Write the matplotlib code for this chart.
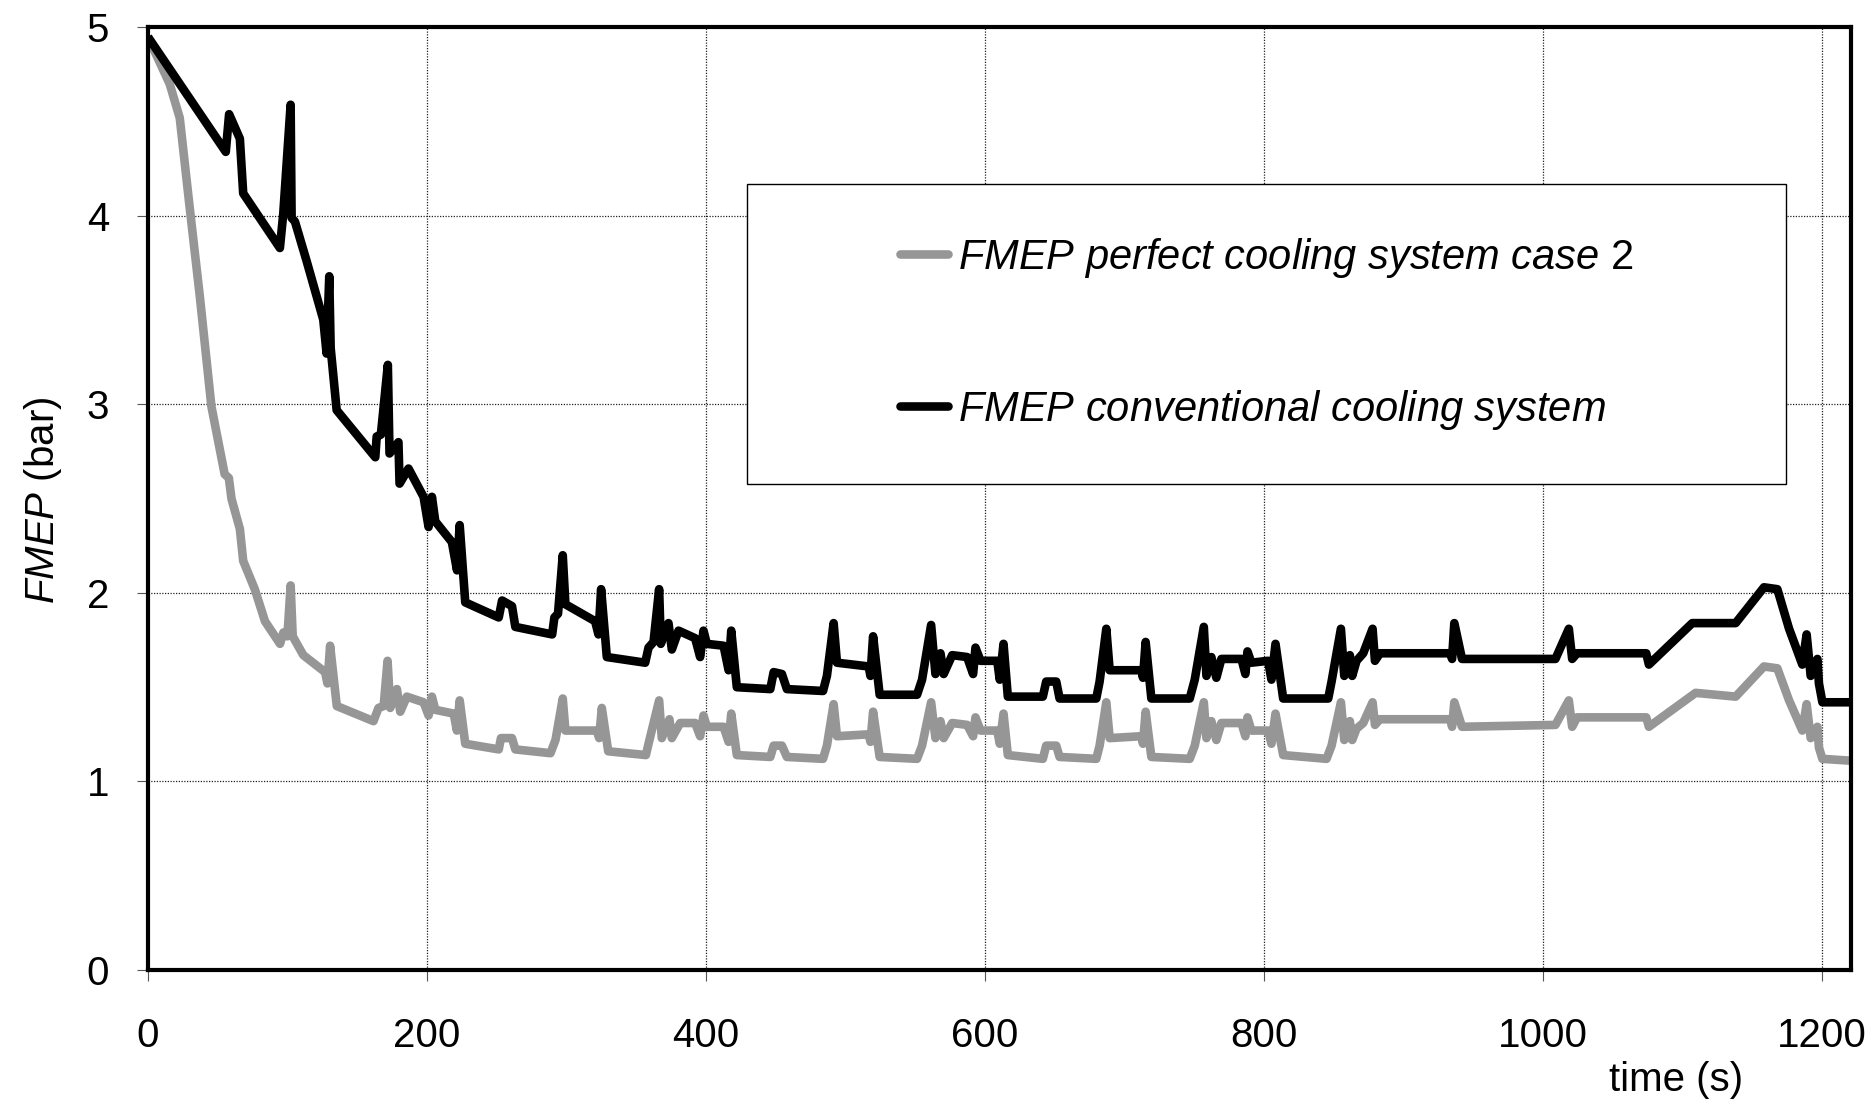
import matplotlib
matplotlib.use("Agg")
import matplotlib.pyplot as plt
from matplotlib.lines import Line2D
from matplotlib.patches import Rectangle

plt.rcParams['font.family'] = ['Liberation Sans', 'DejaVu Sans']
plt.rcParams['mathtext.fontset'] = 'custom'
plt.rcParams['mathtext.it'] = 'Liberation Sans:italic'
plt.rcParams['mathtext.rm'] = 'Liberation Sans'

# FMEP, conventional cooling system (black)
time_conv = [
    0, 55.8, 58.2, 65.9, 68.3, 94.6, 97, 102.3, 103, 105.4,
    113.8, 125.7, 128.1, 130, 131, 135.3, 163, 164, 167, 172,
    173.2, 179.6, 180.4, 186.8, 197.6, 201.2, 203.6, 206, 217.9, 221.6,
    223.5, 227.5, 251.5, 253.9, 261, 263.4, 289.8, 291.4, 294, 297.4,
    299.3, 320.6, 323, 324.9, 329, 356.5, 358.9, 362.5, 366.5, 367.7,
    373.2, 375.6, 380.4, 392.3, 395.9, 398.3, 400.7, 412.7, 416.3, 418.2,
    422.2, 446.2, 448.6, 454.5, 458.1, 484, 486.8, 491.6, 494, 516.7,
    518, 519.9, 524.6, 551.4, 555, 561.5, 564.6, 568.2, 570.5, 576.6,
    587.3, 591.6, 593.3, 596.9, 608.9, 610.7, 613.4, 616.5, 641.6, 644,
    651.2, 653.6, 679.9, 682.3, 687.1, 689.5, 712.2, 713.4, 715.3, 719.4,
    746.9, 750.5, 757, 758.9, 762.4, 766, 769.6, 784, 786.8, 788.3,
    791.1, 803.1, 805.5, 808.4, 813.9, 846.2, 848.6, 855.3, 857.7, 861.7,
    863.4, 866.5, 871.3, 878, 879.7, 883.3, 933.7, 935, 936.6, 942.1,
    1009.1, 1018.7, 1021.1, 1024.6, 1074.2, 1076.1, 1107.2, 1138.3, 1158.6, 1168.2,
    1176.6, 1186.1, 1189.2, 1192.1, 1194.5, 1196.9, 1198, 1200.5, 1221,
]
fmep_conv = [
    4.95, 4.34, 4.54, 4.41, 4.12, 3.83, 4.01, 4.59, 3.99, 3.97,
    3.76, 3.45, 3.27, 3.68, 3.30, 2.97, 2.72, 2.83, 2.84, 3.21,
    2.74, 2.80, 2.58, 2.66, 2.51, 2.35, 2.51, 2.38, 2.27, 2.12,
    2.36, 1.95, 1.87, 1.96, 1.93, 1.82, 1.78, 1.87, 1.89, 2.20,
    1.94, 1.85, 1.78, 2.02, 1.66, 1.63, 1.71, 1.74, 2.02, 1.73,
    1.84, 1.70, 1.80, 1.76, 1.66, 1.80, 1.73, 1.72, 1.59, 1.80,
    1.50, 1.49, 1.58, 1.57, 1.49, 1.48, 1.56, 1.84, 1.63, 1.61,
    1.56, 1.77, 1.46, 1.46, 1.54, 1.83, 1.57, 1.68, 1.57, 1.67,
    1.66, 1.57, 1.71, 1.64, 1.64, 1.54, 1.73, 1.45, 1.45, 1.53,
    1.53, 1.44, 1.44, 1.53, 1.81, 1.59, 1.59, 1.55, 1.74, 1.44,
    1.44, 1.54, 1.82, 1.56, 1.66, 1.55, 1.65, 1.65, 1.57, 1.69,
    1.63, 1.64, 1.54, 1.73, 1.44, 1.44, 1.53, 1.81, 1.56, 1.67,
    1.56, 1.64, 1.68, 1.81, 1.64, 1.68, 1.68, 1.65, 1.84, 1.65,
    1.65, 1.81, 1.65, 1.68, 1.68, 1.62, 1.84, 1.84, 2.03, 2.02,
    1.81, 1.62, 1.78, 1.56, 1.60, 1.65, 1.52, 1.42, 1.42,
]

# FMEP, perfect cooling system case 2 (grey)
time_perf = [
    0, 15.6, 22.8, 30, 37.1, 45.5, 55, 58, 59.9, 65.9,
    68.3, 76.6, 83.9, 94.7, 97.1, 100, 102.3, 103.8, 111.4, 127,
    128.7, 130.6, 135.4, 161.7, 165.3, 169, 171.8, 173.7, 178.5, 180.9,
    185.6, 197.6, 201.2, 203.6, 206, 219.2, 221.5, 223.5, 227.5, 251.5,
    253.1, 261, 263.4, 288.6, 292.2, 297.4, 299.3, 321.8, 323.5, 325.4,
    330, 357, 358.9, 366.5, 368.4, 373.9, 375.6, 381.6, 392.3, 395.9,
    398.3, 400.7, 412.7, 416.3, 418.2, 422.2, 446.2, 448.6, 454.5, 458.1,
    484, 486.8, 491.6, 494, 516.7, 518, 519.9, 524.6, 551.4, 555,
    561.5, 564.6, 568.2, 570.5, 576.6, 587.3, 591.6, 593.3, 596.9, 608.9,
    610.7, 613.4, 616.5, 641.6, 644, 651.2, 653.6, 679.9, 682.3, 687.1,
    689.5, 712.2, 713.4, 715.3, 719.4, 746.9, 750.5, 757, 758.9, 762.4,
    766, 769.6, 784, 786.8, 788.3, 791.1, 803.1, 805.5, 808.4, 813.9,
    845, 848.6, 855.3, 857.7, 861.7, 863.4, 866.5, 871.3, 878, 879.7,
    883.3, 933.7, 935, 936.6, 942.1, 1009.1, 1018.7, 1021.1, 1024.6, 1074.2,
    1076.1, 1109.6, 1138.3, 1158.6, 1168.2, 1176.6, 1186.1, 1189.2, 1192.1, 1196.9,
    1198, 1200.5, 1221,
]
fmep_perf = [
    4.95, 4.70, 4.52, 4.04, 3.58, 2.99, 2.63, 2.61, 2.50, 2.34,
    2.17, 2.02, 1.85, 1.73, 1.79, 1.77, 2.04, 1.77, 1.67, 1.58,
    1.52, 1.72, 1.40, 1.32, 1.39, 1.40, 1.64, 1.39, 1.49, 1.37,
    1.45, 1.42, 1.35, 1.45, 1.38, 1.36, 1.27, 1.43, 1.20, 1.17,
    1.23, 1.23, 1.17, 1.15, 1.22, 1.44, 1.27, 1.27, 1.23, 1.39,
    1.16, 1.14, 1.20, 1.43, 1.23, 1.33, 1.23, 1.31, 1.31, 1.24,
    1.35, 1.29, 1.29, 1.21, 1.36, 1.14, 1.13, 1.19, 1.19, 1.13,
    1.12, 1.19, 1.41, 1.24, 1.25, 1.21, 1.37, 1.13, 1.12, 1.19,
    1.42, 1.23, 1.32, 1.23, 1.31, 1.30, 1.24, 1.34, 1.27, 1.27,
    1.20, 1.36, 1.14, 1.12, 1.19, 1.19, 1.13, 1.12, 1.19, 1.42,
    1.23, 1.24, 1.20, 1.37, 1.13, 1.12, 1.19, 1.42, 1.23, 1.32,
    1.22, 1.31, 1.31, 1.24, 1.34, 1.27, 1.27, 1.20, 1.36, 1.14,
    1.12, 1.19, 1.42, 1.22, 1.32, 1.22, 1.28, 1.31, 1.42, 1.30,
    1.33, 1.33, 1.29, 1.42, 1.29, 1.30, 1.43, 1.29, 1.34, 1.34,
    1.29, 1.47, 1.45, 1.61, 1.60, 1.43, 1.27, 1.41, 1.23, 1.29,
    1.18, 1.12, 1.11,
]

x_ticks = [0, 200, 400, 600, 800, 1000, 1200]
y_ticks = [0, 1, 2, 3, 4, 5]
label_perf = r'$\mathit{FMEP\ perfect\ cooling\ system\ case\ 2}$'
label_conv = r'$\mathit{FMEP\ conventional\ cooling\ system}$'

GREY = '#969696'
FS = 29
LW = 6.2

fig = plt.figure(figsize=(18.75, 11.07), dpi=100)
ax = fig.add_axes([0.0789, 0.1238, 0.9083, 0.8514])

ax.plot(time_perf, fmep_perf, color=GREY, lw=LW, solid_joinstyle='round',
        solid_capstyle='butt', zorder=3)
ax.plot(time_conv, fmep_conv, color='black', lw=LW, solid_joinstyle='round',
        solid_capstyle='butt', zorder=4)

ax.set_xlim(0, 1221)
ax.set_ylim(0, 5)
ax.set_xticks(x_ticks)
ax.set_yticks(y_ticks)
ax.grid(True, color='#222222', linestyle=(0, (1, 1.2)), linewidth=0.9)
ax.set_axisbelow(True)
ax.tick_params(direction='out', length=8, width=0.8, color='#555555',
               labelsize=FS, pad=20)
ax.tick_params(axis='x', pad=26)
for sp in ax.spines.values():
    sp.set_linewidth(3)
    sp.set_zorder(5)

ax.text(-0.0617, 0.4987, r'$\mathit{FMEP}$ (bar)', transform=ax.transAxes,
        rotation=90, ha='center', va='center', fontsize=FS)
ax.text(0.8975, -0.1167, 'time (s)', transform=ax.transAxes,
        ha='center', va='center', fontsize=FS)

# legend frame drawn separately so its size matches the original
ax.add_patch(Rectangle((0.352, 0.516), 0.610, 0.318, transform=ax.transAxes,
                       facecolor='white', edgecolor='black', lw=1.0, zorder=6))
handles = [Line2D([], [], color=GREY, lw=LW, solid_capstyle='round'),
           Line2D([], [], color='black', lw=LW, solid_capstyle='round')]
leg = ax.legend(handles, [label_perf, label_conv], loc='center',
                bbox_to_anchor=(0.657, 0.675), frameon=False, fontsize=30,
                handlelength=1.15, handletextpad=0.25, labelspacing=2.6)
leg.set_zorder(7)

fig.savefig('out.png', dpi=100, facecolor='white')
